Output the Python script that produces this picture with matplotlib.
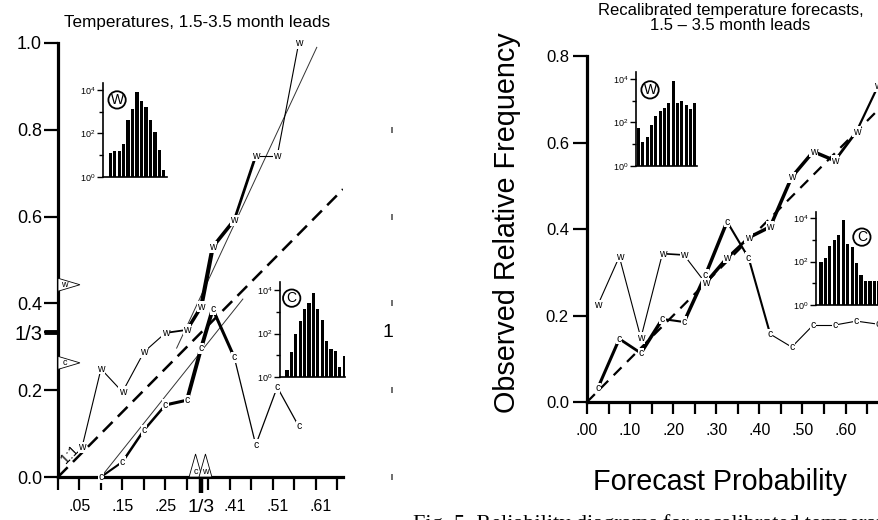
import matplotlib
matplotlib.use('Agg')
import matplotlib.pyplot as plt
from matplotlib.transforms import blended_transform_factory

plt.rcParams['font.family'] = ['Liberation Sans', 'DejaVu Sans']
plt.rcParams['mathtext.fontset'] = 'custom'
plt.rcParams['mathtext.rm'] = 'Liberation Sans'
plt.rcParams['mathtext.it'] = 'Liberation Sans:italic'
plt.rcParams['mathtext.bf'] = 'Liberation Sans:bold'

# ---------------- data: left panel ----------------
left_w_x = [0.056, 0.10, 0.15, 0.20, 0.25, 0.30, 0.333, 0.36, 0.41, 0.46, 0.51, 0.56]
left_w_y = [0.069, 0.249, 0.196, 0.288, 0.332, 0.339, 0.392, 0.53, 0.592, 0.74, 0.74, 1.0]
left_w_lw = [0.8, 0.8, 0.8, 0.8, 1.3, 2.5, 3.0, 2.6, 2.0, 0.8, 0.8]
left_c_x = [0.10, 0.15, 0.20, 0.25, 0.30, 0.333, 0.36, 0.41, 0.46, 0.51, 0.56]
left_c_y = [0.0, 0.035, 0.108, 0.166, 0.177, 0.297, 0.387, 0.276, 0.074, 0.207, 0.117]
left_c_lw = [1.5, 1.8, 1.8, 2.2, 2.8, 2.8, 2.2, 0.9, 0.9, 0.9]
left_w_fit_x = [0.276, 0.602]
left_w_fit_y = [0.297, 0.99]
left_c_fit_x = [0.10, 0.43]
left_c_fit_y = [0.0, 0.41]
left_obs_clim = {'w': 0.443, 'c': 0.263}      # triangles on y axis
left_fcst_clim = {'c': 0.32, 'w': 0.343}      # triangles on x axis
left_hist_w = [13, 16, 16, 32, 400, 1400, 8000, 3200, 1600, 400, 120, 18, 2]
left_hist_c = [2, 14, 100, 380, 1300, 2600, 7000, 1300, 400, 43, 20, 16, 3, 9]
left_xtick_marks = [0, 0.05, 0.10, 0.15, 0.20, 0.25, 0.30, 0.35, 0.40, 0.45, 0.50, 0.55, 0.60, 0.65]
left_xlabel_pos = [0.05, 0.15, 0.25, 1/3, 0.41, 0.51, 0.61]
left_xlabels = ['.05', '.15', '.25', '1/3', '.41', '.51', '.61']
left_ytick_pos = [0.0, 0.2, 1/3, 0.4, 0.6, 0.8, 1.0]
left_ylabels = ['0.0', '0.2', '1/3', '0.4', '0.6', '0.8', '1.0']
stray_y = [0.0, 0.2, 0.4, 0.6, 0.8]

# ---------------- data: right panel ----------------
right_x = [0.025, 0.075, 0.125, 0.175, 0.225, 0.275, 0.325, 0.375, 0.425, 0.475, 0.525, 0.575, 0.625, 0.675]
right_w_y = [0.224, 0.336, 0.148, 0.343, 0.34, 0.275, 0.333, 0.38, 0.405, 0.52, 0.579, 0.558, 0.625, 0.73]
right_w_lw = [0.8, 0.8, 0.8, 1.2, 0.8, 2.5, 2.0, 2.5, 2.5, 2.5, 2.5, 2.0, 1.6]
right_c_y = [0.032, 0.146, 0.113, 0.192, 0.185, 0.294, 0.417, 0.333, 0.157, 0.127, 0.178, 0.178, 0.187, 0.18]
right_c_lw = [2.2, 2.0, 2.5, 1.5, 2.5, 2.5, 1.5, 1.5, 0.8, 0.8, 0.8, 0.8, 0.8]
right_hist_w = [54, 13, 22, 78, 200, 350, 460, 800, 7800, 800, 1000, 650, 420, 800]
right_hist_c = [100, 140, 520, 1000, 1700, 8300, 660, 450, 90, 24, 13, 13, 13, 13]
right_xticks = [0, 0.05, 0.10, 0.15, 0.20, 0.25, 0.30, 0.35, 0.40, 0.45, 0.50, 0.55, 0.60, 0.65, 0.70]
right_xlabels = ['.00', '', '.10', '', '.20', '', '.30', '', '.40', '', '.50', '', '.60', '', '']
right_yticks = [0.0, 0.2, 0.4, 0.6, 0.8]
right_ylabels = ['0.0', '0.2', '0.4', '0.6', '0.8']

W, H = 879, 520
fig = plt.figure(figsize=(W / 100, H / 100), dpi=100)


def rect(x0, y0, x1, y1):
    return [x0 / W, 1 - y1 / H, (x1 - x0) / W, (y1 - y0) / H]


def draw_series(ax, xs, ys, lws, letter):
    for i in range(len(xs) - 1):
        ax.plot(xs[i:i + 2], ys[i:i + 2], color='k', lw=lws[i],
                solid_capstyle='round', zorder=3, clip_on=False)
    for x, y in zip(xs, ys):
        ax.text(x, y, letter, ha='center', va='center', fontsize=7.5, zorder=5,
                clip_on=False,
                bbox=dict(boxstyle='square,pad=0.05', fc='white', ec='none'))


def style_main(ax):
    for s in ['top', 'right']:
        ax.spines[s].set_visible(False)
    for s in ['left', 'bottom']:
        ax.spines[s].set_linewidth(2.3)
    ax.patch.set_alpha(0)


def make_inset(r, counts, xlim, ytop, letter, lpos):
    ax = fig.add_axes(r)
    ax.patch.set_alpha(0)
    ax.bar(range(len(counts)), counts, width=0.72, color='k', zorder=2)
    ax.set_yscale('log')
    ax.set_ylim(1, ytop)
    ax.set_xlim(*xlim)
    for s in ['top', 'right']:
        ax.spines[s].set_visible(False)
    for s in ['left', 'bottom']:
        ax.spines[s].set_linewidth(1.2)
    ax.set_xticks([])
    ax.set_yticks([1, 100, 10000], [r'$10^{0}$', r'$10^{2}$', r'$10^{4}$'])
    ax.set_yticks([10, 1000], minor=True)
    ax.yaxis.set_minor_formatter(plt.NullFormatter())
    ax.tick_params(axis='y', which='major', length=4, width=1, labelsize=6.5, pad=1.5)
    ax.tick_params(axis='y', which='minor', length=3, width=1)
    ax.text(lpos[0], lpos[1], letter, transform=ax.transAxes, ha='center', va='center',
            fontsize=10, bbox=dict(boxstyle='circle,pad=0.12', fc='white', ec='k', lw=1.3))
    return ax


# ================= LEFT PANEL =================
axL = fig.add_axes(rect(58, 43, 343, 477))
style_main(axL)
axL.set_xlim(0, 0.663)
axL.set_ylim(0, 1.0)

# 1:1 line
axL.plot([0, 0.663], [0, 0.663], color='k', lw=1.8, dashes=(5.5, 3), zorder=2)
axL.text(0.027, 0.052, '1:1', rotation=45, ha='center', va='center', fontsize=10)

# fit lines
axL.plot(left_w_fit_x, left_w_fit_y, color='#333333', lw=0.7, zorder=2)
axL.plot(left_c_fit_x, left_c_fit_y, color='#333333', lw=0.7, zorder=2)

draw_series(axL, left_w_x, left_w_y, left_w_lw, 'w')
draw_series(axL, left_c_x, left_c_y, left_c_lw, 'c')

# climatology triangles on y axis
for k, yv in left_obs_clim.items():
    axL.fill([0, 0.051, 0], [yv - 0.015, yv, yv + 0.015], fc='white', ec='k', lw=0.6,
             clip_on=False, zorder=4)
    axL.text(0.015, yv, k, fontsize=6.5, ha='center', va='center', zorder=5)
# forecast-climatology triangles on x axis
for k, xv in left_fcst_clim.items():
    axL.fill([xv - 0.015, xv, xv + 0.015], [0, 0.053, 0], fc='white', ec='k', lw=0.6,
             clip_on=False, zorder=4)
    axL.text(xv, 0.013, k, fontsize=6.5, ha='center', va='center', zorder=5)

# ticks
axL.set_xticks(left_xlabel_pos, left_xlabels)
axL.set_xticks(left_xtick_marks, minor=True)
axL.xaxis.remove_overlapping_locs = False
axL.tick_params(axis='x', which='major', length=0, pad=16, labelsize=11.5)
axL.tick_params(axis='x', which='minor', length=9.5, width=1.6)
axL.set_yticks(left_ytick_pos, left_ylabels)
axL.tick_params(axis='y', which='major', length=10, width=1.6, pad=1.5, labelsize=13)
for lab in axL.get_xticklabels():
    if lab.get_text() == '1/3':
        lab.set_fontsize(14)
for lab in axL.get_yticklabels():
    if lab.get_text() == '1/3':
        lab.set_fontsize(14.5)
# thick 1/3 tick marks
trx = blended_transform_factory(axL.transData, axL.transAxes)
axL.plot([1/3, 1/3], [0, -0.037], transform=trx, color='k', lw=3.2, clip_on=False,
         solid_capstyle='butt')
tryy = blended_transform_factory(axL.transAxes, axL.transData)
axL.plot([0, -0.05], [1/3, 1/3], transform=tryy, color='k', lw=3.5, clip_on=False,
         solid_capstyle='butt')

# stray marks of a neighbouring axis
axL.plot([0.777] * len(stray_y), stray_y, ls='none', marker='|', ms=5, mew=1.2,
         color='#555555', clip_on=False)
axL.text(0.768, 1/3, '1', fontsize=14, ha='center', va='center', clip_on=False)

fig.text(197 / W, 1 - 22 / H, 'Temperatures, 1.5-3.5 month leads', ha='center',
         va='center', fontsize=12.3)

make_inset(rect(103, 83, 167, 177), left_hist_w, (-1.6, 12.7), 10 ** 4.32, 'W', (0.22, 0.82))
make_inset(rect(280, 282, 345, 377), left_hist_c, (-1.6, 13.2), 10 ** 4.37, 'C', (0.18, 0.83))

# ================= RIGHT PANEL =================
axR = fig.add_axes(rect(587, 56, 587 + 0.72 * 431, 402))
style_main(axR)
axR.set_xlim(0, 0.72)
axR.set_ylim(0, 0.8)
axR.plot([0, 0.72], [0, 0.72], color='k', lw=1.6, dashes=(5, 3.5), zorder=2)
draw_series(axR, right_x, right_w_y, right_w_lw, 'w')
draw_series(axR, right_x, right_c_y, right_c_lw, 'c')

axR.set_xticks(right_xticks, right_xlabels)
axR.tick_params(axis='x', length=8.5, width=1.6, pad=6.5, labelsize=11.5)
axR.set_yticks(right_yticks, right_ylabels)
axR.tick_params(axis='y', length=10, width=1.6, pad=3, labelsize=12)

fig.text(731 / W, 1 - 10 / H, 'Recalibrated temperature forecasts,', ha='center',
         va='center', fontsize=12)
fig.text(730 / W, 1 - 25 / H, '1.5 \u2013 3.5 month leads', ha='center',
         va='center', fontsize=12)
fig.text(507 / W, 1 - 223 / H, 'Observed Relative Frequency', rotation=90,
         ha='center', va='center', fontsize=20.7)
fig.text(720 / W, 1 - 482 / H, 'Forecast Probability', ha='center', va='center',
         fontsize=20.7)
fig.text(413 / W, 1 - 529 / H, 'Fig. 5. Reliability diagrams for recalibrated temperature forecasts',
         ha='left', va='baseline', fontsize=16, family='Liberation Serif')

make_inset(rect(636, 72, 697, 166), right_hist_w, (-0.6, 13.5), 10 ** 4.32, 'W', (0.23, 0.81))
make_inset(rect(816, 212, 890, 305), right_hist_c, (-1.1, 15.5), 10 ** 4.28, 'C', (0.62, 0.73))

fig.savefig('out.png', dpi=100)
